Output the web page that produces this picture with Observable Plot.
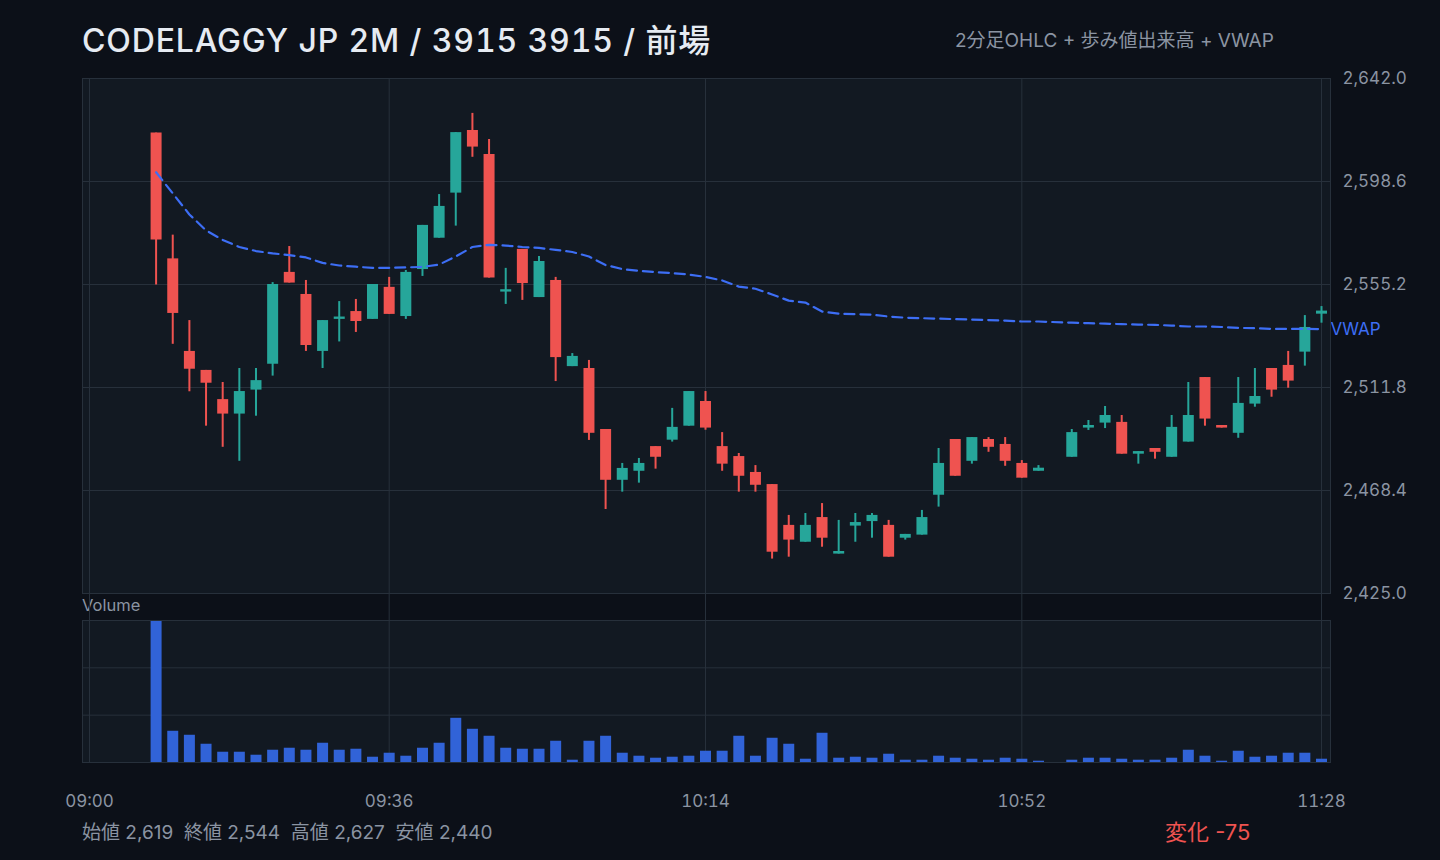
<!DOCTYPE html>
<html><head><meta charset="utf-8">
<script src="https://cdn.jsdelivr.net/npm/d3@7"></script>
<script src="https://cdn.jsdelivr.net/npm/@observablehq/plot@0.6"></script>
<style>
body{margin:0;background:#0c1018;width:1440px;height:860px;overflow:hidden;font-family:Inter,"Noto Sans CJK JP",sans-serif;}
#root{position:relative;width:1440px;height:860px;}
.abs{position:absolute;white-space:nowrap;line-height:1;}
#price{position:absolute;left:0;top:58px;}
#vol{position:absolute;left:0;top:593px;}
</style></head><body><div id="root">
<div class="abs" style="left:82px;top:25px;font-size:32px;color:#e6ebf2;font-weight:500;letter-spacing:0.85px;font-variant-numeric:tabular-nums">CODELAGGY JP 2M / 3915 3915 / 前場</div>
<div class="abs" style="left:955px;top:31px;font-size:19px;color:#8b94a2">2分足OHLC + 歩み値出来高 + VWAP</div>
<div class="abs" style="left:82px;top:597px;font-size:16.5px;color:#8b94a2">Volume</div>
<div class="abs" style="left:82px;top:823px;font-size:19px;color:#8b94a2">始値 2,619&nbsp;&nbsp;終値 2,544&nbsp;&nbsp;高値 2,627&nbsp;&nbsp;安値 2,440</div>
<div class="abs" style="left:1165px;top:821px;font-size:22px;color:#ef5350">変化 -75</div>
<div id="price"></div>
<div id="vol"></div>
</div>
<script>
const times = ["09:08","09:10","09:12","09:14","09:16","09:18","09:20","09:22","09:24","09:26","09:28","09:30","09:32","09:34","09:36","09:38","09:40","09:42","09:44","09:46","09:48","09:50","09:52","09:54","09:56","09:58","10:00","10:02","10:04","10:06","10:08","10:10","10:12","10:14","10:16","10:18","10:20","10:22","10:24","10:26","10:28","10:30","10:32","10:34","10:36","10:38","10:40","10:42","10:44","10:46","10:48","10:50","10:52","10:54","10:58","11:00","11:02","11:04","11:06","11:08","11:10","11:12","11:14","11:16","11:18","11:20","11:22","11:24","11:26","11:28"];
const open = [2619,2566,2527,2519,2506.7,2500.6,2510.7,2521.6,2560.3,2551,2527,2540.5,2543.8,2540.5,2554,2541.7,2561.5,2574.7,2593.7,2620.1,2610,2552,2570,2549.7,2556.9,2520.6,2519.8,2494.1,2472.7,2476.5,2486.9,2489.6,2495.5,2505.9,2486.9,2482.7,2476,2470.9,2453.7,2446.6,2457,2441.6,2453.4,2455.3,2453.7,2448.3,2449.6,2466.4,2489.9,2480.7,2489.9,2487.8,2479.8,2476.5,2482.4,2494.7,2496.8,2497.1,2483.7,2486.1,2482.4,2488.8,2516,2495.8,2492.5,2504.8,2519.8,2521.1,2526.7,2542.7];
const high = [2619,2576,2540,2519,2513.9,2519.8,2519.8,2556,2571.2,2556.9,2540,2548,2548.9,2555.2,2558.2,2561.1,2580.1,2593.1,2619.2,2627.3,2616.3,2562,2570,2567,2558.2,2526.1,2523.2,2494.1,2479.8,2481.9,2486.9,2503,2510.1,2510.1,2492.8,2484,2478.9,2470.9,2457.9,2458.7,2462.9,2455.8,2458.7,2458.7,2455.8,2449.9,2460,2486.1,2489.9,2490.7,2490.7,2490.7,2481,2478.9,2494.1,2497.9,2503.8,2500,2484.8,2486.1,2500,2513.9,2516,2495.8,2516,2519.8,2519.8,2527,2542.1,2545.9];
const low = [2555,2530,2510,2495.5,2486.6,2480.7,2499.7,2516.6,2555.8,2527,2519.8,2531,2535,2540.5,2542.6,2540.5,2558.6,2574.7,2579.8,2608.8,2557.9,2546.8,2548.5,2549.7,2514.3,2520.6,2489.5,2460.4,2467.7,2471.5,2477.4,2488.8,2495.5,2493.8,2476.5,2467.7,2467.7,2439.5,2440.3,2446.6,2444.5,2441.6,2446.6,2448.3,2440.3,2447.5,2449.6,2461.4,2474.4,2479.5,2484.5,2478.6,2473.6,2476.5,2482.4,2493.7,2494.5,2483.7,2479.5,2481.6,2482.4,2488.8,2495.5,2494.7,2490.4,2503.5,2507.7,2511.5,2520.8,2538.9];
const close = [2574,2543,2519.5,2513.6,2500.6,2510.1,2514.7,2555.2,2555.8,2529.5,2540,2541.5,2539.6,2555.2,2542.6,2560.3,2580.1,2588.1,2619.2,2613.1,2557.9,2553,2555.6,2564.9,2524.4,2524.9,2492.5,2472.7,2477.7,2479.8,2482.4,2495,2510.1,2494.7,2479.5,2474.4,2470.6,2442.4,2447.5,2453.7,2448.3,2442.7,2454.9,2457.9,2440.3,2449.9,2457,2479.8,2474.4,2490.7,2486.6,2480.7,2473.6,2477.8,2492.8,2495.8,2500,2483.7,2484.8,2484.5,2495,2500,2498.5,2494.7,2505.1,2508,2510.7,2514.5,2537.1,2544];
const volume = [14230,3130,2730,1830,1030,1030,730,1230,1430,1230,1930,1230,1330,530,930,630,1430,1930,4430,3330,2630,1430,1330,1330,2130,230,2130,2630,930,630,430,530,630,1130,1130,2630,630,2430,1830,330,2930,430,530,430,830,230,230,630,430,330,230,430,330,130,230,430,430,330,230,230,430,1230,630,130,1130,530,630,930,930,330];
const vwap = [2602.5,2593.6,2584.7,2578.0,2574.0,2571.0,2569.3,2568.3,2567.6,2566.6,2564.3,2563.2,2562.7,2562.2,2562.2,2562.4,2562.6,2563.6,2567.0,2571.0,2571.9,2571.6,2571.0,2570.6,2569.8,2568.9,2567.0,2563.4,2561.7,2561.0,2560.4,2560.0,2559.4,2558.4,2556.9,2554.3,2553.4,2551.0,2548.4,2547.6,2543.8,2542.9,2542.7,2542.5,2541.7,2541.2,2541.0,2540.8,2540.6,2540.4,2540.2,2540.0,2539.6,2539.6,2539.1,2538.9,2538.7,2538.5,2538.3,2538.2,2537.9,2537.5,2537.5,2537.3,2536.9,2536.8,2536.5,2536.5,2536.5,2536.4];
const priceTicks = [2425.0, 2468.4, 2511.8, 2555.2, 2598.6, 2642.0];
const timeTicks = ["09:00","09:36","10:14","10:52","11:28"];
const timeRange = ["09:00","11:28"];

const UP = "#26a69a", DOWN = "#ef5350", VOL = "#3163d8", VWAPC = "#3d6ef5";
const PANEL = "#121922", GRID = "#27303b", TEXT = "#8b94a2";
const FONT = 'Inter,"Noto Sans CJK JP",sans-serif';

const parse = d3.timeParse("%H:%M");
const data = times.map((t, i) => ({t: parse(t), o: open[i], h: high[i], l: low[i], c: close[i], v: volume[i], w: vwap[i]}));
const xTicks = timeTicks.map(parse);
const xDomain = timeRange.map(parse);
const col = d => d.c >= d.o ? UP : DOWN;

const price = Plot.plot({
  width: 1440, height: 555, marginTop: 20, marginBottom: 20, marginLeft: 82, marginRight: 110,
  style: {background: "transparent", color: TEXT, fontFamily: FONT, fontSize: "17px"},
  x: {type: "time", domain: xDomain, insetLeft: 7, insetRight: 9, axis: null},
  y: {domain: [priceTicks[0], priceTicks[priceTicks.length - 1]], axis: null},
  marks: [
    Plot.frame({fill: PANEL}),
    Plot.gridX(xTicks, {stroke: GRID, strokeOpacity: 1}),
    Plot.gridY(priceTicks, {stroke: GRID, strokeOpacity: 1}),
    Plot.axisY(priceTicks, {anchor: "right", label: null, tickSize: 0, tickPadding: 12, tickFormat: d3.format(",.1f"), fontSize: 17}),
    Plot.ruleX(data, {x: "t", y1: "l", y2: "h", stroke: col, strokeWidth: 2}),
    Plot.ruleX(data, {x: "t", y1: "o", y2: "c", stroke: col, strokeWidth: 11}),
    Plot.line(data, {x: "t", y: "w", stroke: VWAPC, strokeWidth: 2.2, strokeDasharray: "10,6"}),
    Plot.text(data.slice(-1), {x: "t", y: "w", text: () => "VWAP", textAnchor: "start", dx: 9, fill: VWAPC, fontSize: 17}),
    Plot.frame({stroke: GRID})
  ]
});
document.getElementById("price").append(price);

const vmax = d3.max(volume);
const vol = Plot.plot({
  width: 1440, height: 229, marginTop: 27, marginBottom: 60, marginLeft: 82, marginRight: 110,
  style: {background: "transparent", color: TEXT, fontFamily: FONT, fontSize: "17px"},
  x: {type: "time", domain: xDomain, insetLeft: 7, insetRight: 9, axis: null},
  y: {domain: [0, vmax], axis: null},
  marks: [
    Plot.frame({fill: PANEL}),
    Plot.gridY([vmax / 3, 2 * vmax / 3], {stroke: GRID, strokeOpacity: 1}),
    Plot.gridX(xTicks, {stroke: GRID, strokeOpacity: 1, insetTop: -27}),
    Plot.axisX(xTicks, {label: null, tickSize: 0, tickPadding: 32, tickFormat: d3.timeFormat("%H:%M"), fontSize: 17}),
    Plot.ruleX(data, {x: "t", y1: 0, y2: "v", stroke: VOL, strokeWidth: 11}),
    Plot.frame({stroke: GRID})
  ]
});
document.getElementById("vol").append(vol);
</script>
</body></html>
